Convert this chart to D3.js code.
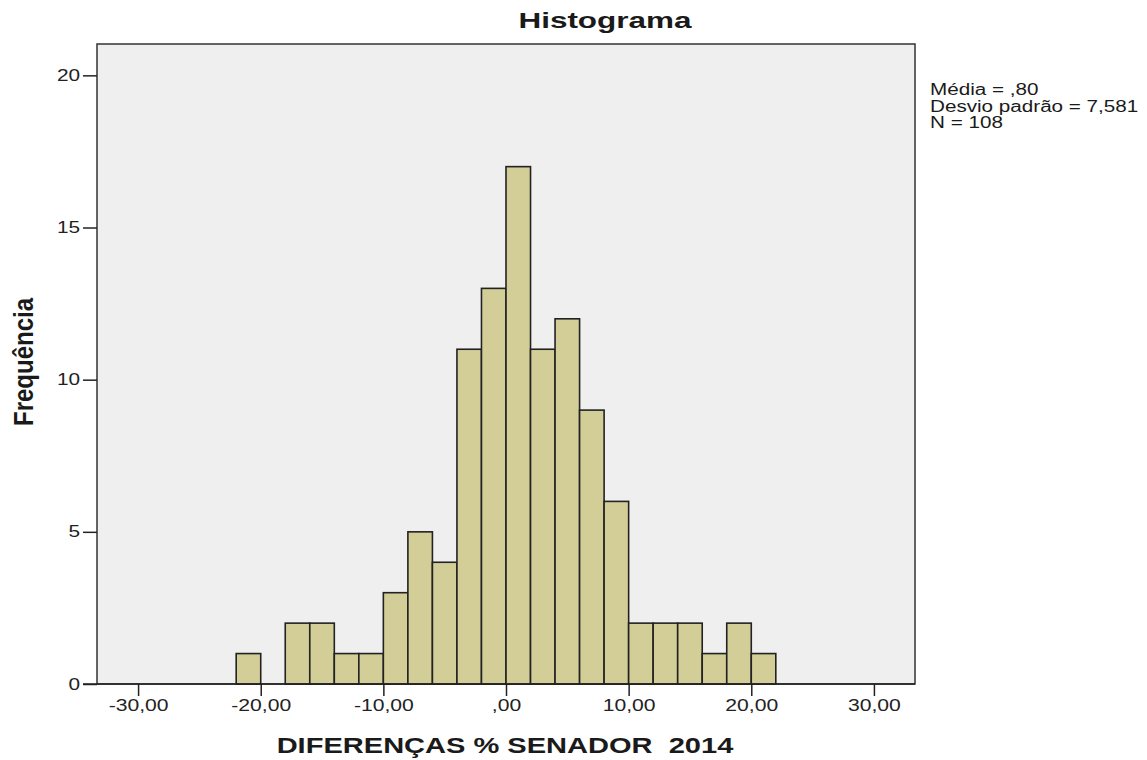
<!DOCTYPE html>
<meta charset="utf-8">
<head>
<title>Histograma</title>
<style>
body { margin: 0; background: #fff; }
text { font-family: "Liberation Sans", Arial, sans-serif; fill: #1a1a1a; }
.tick text { font-size: 16px; fill: #222; }
.bar { fill: #d3ce98; stroke: #222; stroke-width: 1.6px; }
</style>
</head>
<body>
<script src="https://d3js.org/d3.v7.min.js"></script>
<div id="chart"></div>
<script>

  // histogram bins (lower edge, width 2) and counts
  var binStarts = [-22, -20, -18, -16, -14, -12, -10, -8, -6, -4, -2, 0, 2, 4, 6, 8, 10, 12, 14, 16, 18, 20];
  var counts    = [1, 0, 2, 2, 1, 1, 3, 5, 4, 11, 13, 17, 11, 12, 9, 6, 2, 2, 2, 1, 2, 1];
  var binWidth = 2;
  var xTicks = [-30, -20, -10, 0, 10, 20, 30];
  var yTicks = [0, 5, 10, 15, 20];
  var stats = ["Média = ,80", "Desvio padrão = 7,581", "N = 108"];

  var width = 1147,
    height = 760;

  var mLeft = 97, mRight = 915, mTop = 44, mBottom = 684;

  var x = d3.scaleLinear().domain([-33.35, 33.35]).range([mLeft, mRight]);
  var y = d3.scaleLinear().domain([0, 21.03]).range([mBottom, mTop]);

  var fmt = function (d) {
    if (d === 0) return ",00";
    return d3.format(".2f")(d).replace(".", ",").replace("\u2212", "-");
  };

  // the original output has wide lettering: stretch texts horizontally
  function stretch(sel, f) {
    sel.each(function () {
      var w = this.getComputedTextLength();
      d3.select(this).attr('textLength', w * f).attr('lengthAdjust', 'spacingAndGlyphs');
    });
  }

  const svg = d3.select('#chart')
      .append('svg')
      .attr('width', width)
      .attr('height', height);

  // plot background
  svg.append('rect')
      .attr('x', mLeft).attr('y', mTop)
      .attr('width', mRight - mLeft).attr('height', mBottom - mTop)
      .attr('fill', '#efefef')
      .attr('stroke', '#333')
      .attr('stroke-width', 1.5);

  const bins = binStarts.map(function (s, i) { return { x0: s, x1: s + binWidth, n: counts[i] }; })
      .filter(function (d) { return d.n > 0; });

  svg.selectAll('.bar')
      .data(bins)
      .enter()
      .append('rect')
      .attr('class', 'bar')
      .attr('x', function (d) { return x(d.x0); })
      .attr('width', function (d) { return x(d.x1) - x(d.x0); })
      .attr('y', function (d) { return y(d.n); })
      .attr('height', function (d) { return y(0) - y(d.n); });

  const xAxis = svg.append('g')
      .attr('transform', 'translate(0,' + mBottom + ')')
      .call(d3.axisBottom(x).tickValues(xTicks).tickFormat(fmt).tickSize(12).tickPadding(4));
  xAxis.select('.domain').attr('d', 'M' + (mLeft - 14) + ',0H' + mRight).attr('stroke', '#222').attr('stroke-width', 1.5);
  xAxis.selectAll('.tick line').attr('stroke', '#222').attr('stroke-width', 1.5);
  stretch(xAxis.selectAll('.tick text'), 1.32);

  const yAxis = svg.append('g')
      .attr('transform', 'translate(' + mLeft + ',0)')
      .call(d3.axisLeft(y).tickValues(yTicks).tickSize(14).tickPadding(3));
  yAxis.select('.domain').remove();
  yAxis.selectAll('.tick line').attr('stroke', '#222').attr('stroke-width', 1.5);
  stretch(yAxis.selectAll('.tick text'), 1.3);

  const title = svg.append('text')
      .attr('x', 605).attr('y', 28)
      .attr('text-anchor', 'middle')
      .style('font-size', '22px').style('font-weight', 'bold')
      .text('Histograma');
  stretch(title, 1.43);

  const yLabel = svg.append('text')
      .attr('transform', 'translate(33,362) rotate(-90) scale(1,1.35)')
      .attr('text-anchor', 'middle')
      .style('font-size', '20px').style('font-weight', 'bold')
      .text('Frequência');
  stretch(yLabel, 1.2);

  const xLabel = svg.append('text')
      .attr('x', 505).attr('y', 753)
      .attr('text-anchor', 'middle')
      .attr('xml:space', 'preserve')
      .style('font-size', '22px').style('font-weight', 'bold')
      .text('DIFERENÇAS % SENADOR  2014');
  stretch(xLabel, 1.32);

  const statText = svg.append('g').selectAll('text')
      .data(stats)
      .enter()
      .append('text')
      .attr('x', 930)
      .attr('y', function (d, i) { return 95 + i * 16.5; })
      .style('font-size', '16px')
      .text(function (d) { return d; });
  stretch(statText, 1.29);

</script>
</body>
